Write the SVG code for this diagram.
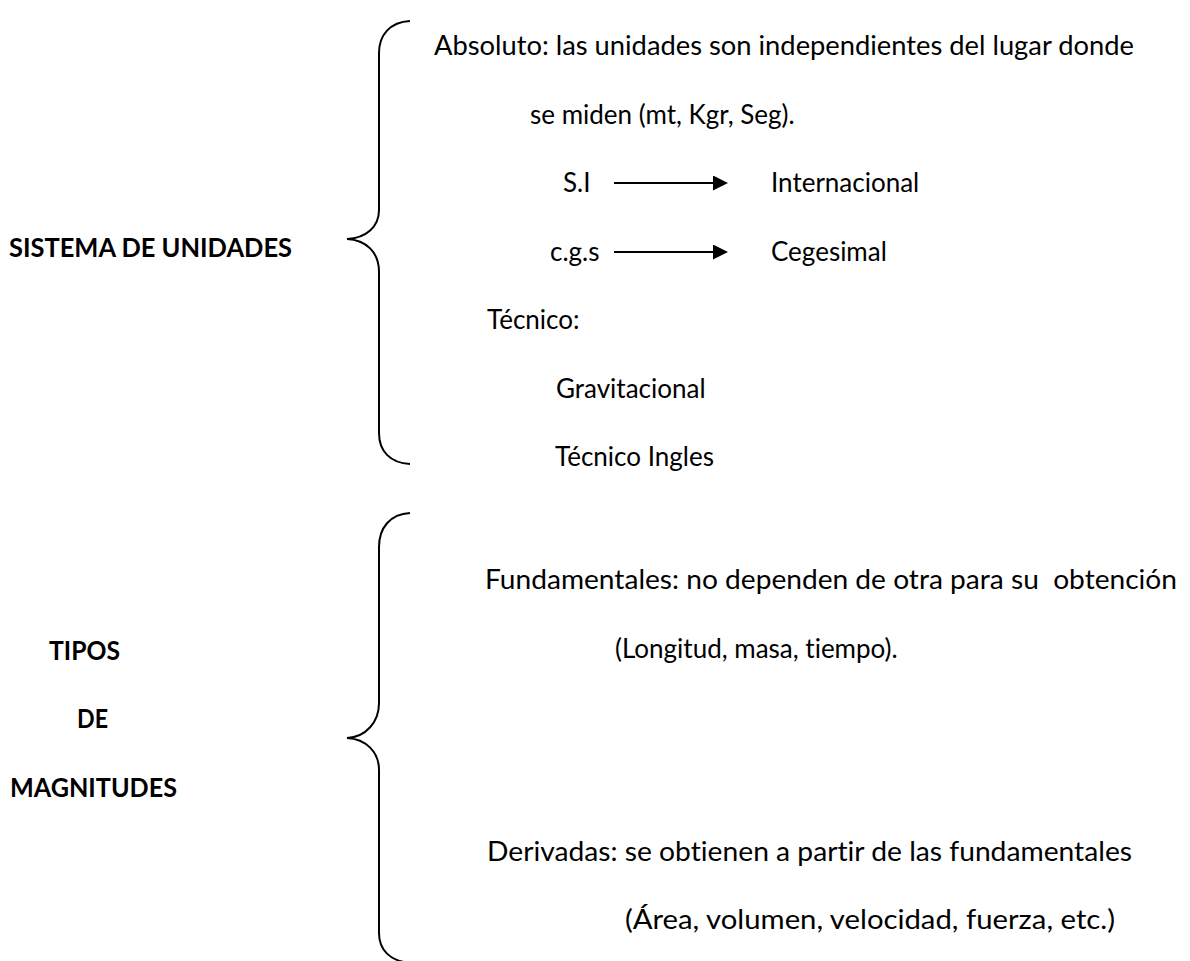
<svg xmlns="http://www.w3.org/2000/svg" width="1190" height="961" viewBox="0 0 1190 961">
<style>
.t{font-family:Lato,"Open Sans","Liberation Sans",sans-serif;font-size:26px;fill:#000;font-variant-ligatures:none}
.b{font-family:Lato,"Open Sans","Liberation Sans",sans-serif;font-size:26px;font-weight:bold;fill:#000;font-variant-ligatures:none}
.br{fill:none;stroke:#000;stroke-width:2}
.ln{stroke:#000;stroke-width:2}
</style>
<defs>
<marker id="ah" markerWidth="15" markerHeight="15" refX="0" refY="7.5" orient="auto" markerUnits="userSpaceOnUse">
<path d="M0,0 L15,7.5 L0,15 Z" fill="#000"/>
</marker>
</defs>
<rect width="1190" height="961" fill="#fff"/>
<g id="sistema">
<text class="b" x="9" y="257" textLength="283" lengthAdjust="spacingAndGlyphs">SISTEMA DE UNIDADES</text>
<path class="br" d="M410,21 C390,22 379,35 379,53 L379,210 C379,227 366,238 347,239 C366,240 379,252 379,272 L379,433 C379,451 390,463 410,464"/>
</g>
<g id="absoluto">
<text class="t" x="434" y="55" textLength="700" lengthAdjust="spacingAndGlyphs">Absoluto: las unidades son independientes del lugar donde</text>
<text class="t" x="530" y="124">se miden (mt, Kgr, Seg).</text>
</g>
<g id="si">
<text class="t" x="563" y="192">S.I</text>
<text class="t" x="771" y="192">Internacional</text>
</g>
<g id="cgs">
<text class="t" x="550" y="261">c.g.s</text>
<text class="t" x="771" y="261">Cegesimal</text>
</g>
<g id="tecnico">
<text class="t" x="487" y="329">Técnico:</text>
<text class="t" x="556" y="398">Gravitacional</text>
<text class="t" x="555" y="466">Técnico Ingles</text>
</g>
<g id="tipos">
<text class="b" x="49" y="660" textLength="71" lengthAdjust="spacingAndGlyphs">TIPOS</text>
<text class="b" x="77" y="728" textLength="31" lengthAdjust="spacingAndGlyphs">DE</text>
<text class="b" x="10" y="797" textLength="167" lengthAdjust="spacingAndGlyphs">MAGNITUDES</text>
<path class="br" d="M410,513 C390,514 379,528 379,547 L379,703 C379,722 366,737 347,738 C366,739 379,752 379,770 L379,933 C379,950 390,961 410,963"/>
</g>
<g id="fundamentales">
<text class="t" x="485" y="589" textLength="692" lengthAdjust="spacingAndGlyphs" xml:space="preserve">Fundamentales: no dependen de otra para su  obtención</text>
<text class="t" x="615" y="658">(Longitud, masa, tiempo).</text>
</g>
<g id="derivadas">
<text class="t" x="487" y="861" textLength="645" lengthAdjust="spacingAndGlyphs">Derivadas: se obtienen a partir de las fundamentales</text>
<text class="t" x="625" y="929" textLength="490" lengthAdjust="spacingAndGlyphs">(Área, volumen, velocidad, fuerza, etc.)</text>
</g>
<g id="connectors">
<line class="ln" x1="614" y1="183" x2="713" y2="183" marker-end="url(#ah)"/>
<line class="ln" x1="614" y1="252" x2="713" y2="252" marker-end="url(#ah)"/>
</g>
</svg>
